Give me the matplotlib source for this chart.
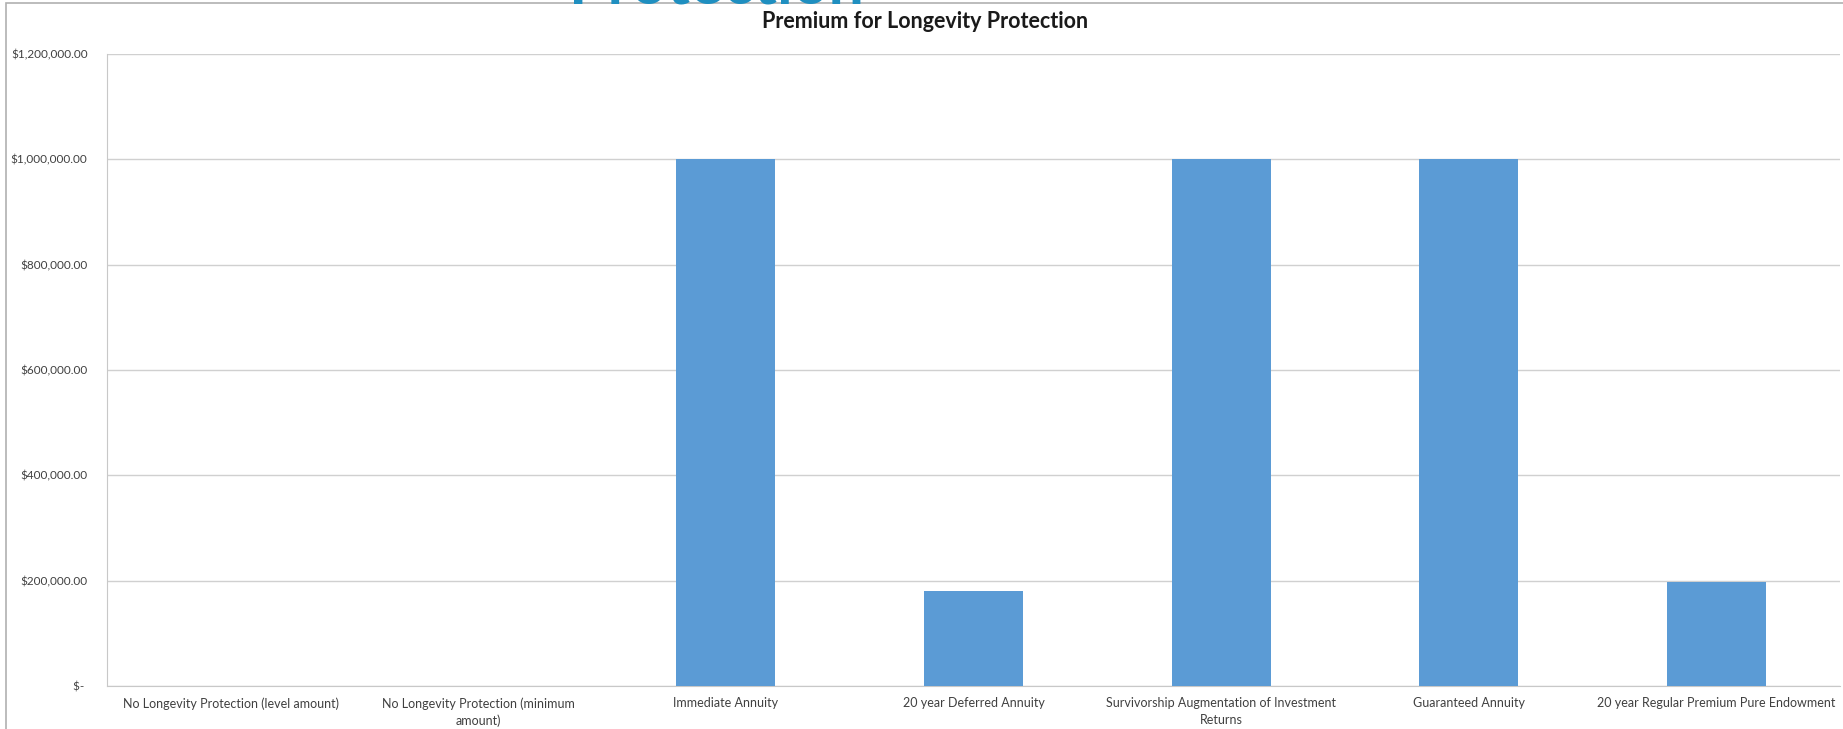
import numpy as np
import matplotlib
matplotlib.use("Agg")
import matplotlib.pyplot as plt
from matplotlib.patches import Rectangle
from matplotlib.ticker import FuncFormatter, MultipleLocator

# premium needed for each way of covering longevity risk
categories = [
    "No Longevity Protection (level amount)",
    "No Longevity Protection (minimum\namount)",
    "Immediate Annuity",
    "20 year Deferred Annuity",
    "Survivorship Augmentation of Investment\nReturns",
    "Guaranteed Annuity",
    "20 year Regular Premium Pure Endowment",
]
premiums = [0, 0, 1000000, 181000, 1000000, 1000000, 197000]

plt.rcParams['font.family'] = ['Lato', 'DejaVu Sans']

fig = plt.figure(figsize=(18.43, 7.29), dpi=100)
ax = fig.add_axes([107 / 1843, 1 - 686 / 729, (1840 - 107) / 1843, (686 - 54) / 729])

x = np.arange(len(categories))
ax.bar(x, premiums, width=0.4, color="#5b9bd5", zorder=3)

ax.set_xlim(-0.5, len(categories) - 0.5)
ax.set_ylim(0, 1200000)
ax.yaxis.set_major_locator(MultipleLocator(200000))


def dollars(v, pos):
    if v == 0:
        return "$- "
    return "${:,.2f}".format(v)


ax.yaxis.set_major_formatter(FuncFormatter(dollars))
ax.set_xticks(x)
ax.set_xticklabels(categories, fontsize=9, color="#404040", linespacing=1.5)
ax.tick_params(axis="y", labelsize=8.5, labelcolor="#404040", length=0, pad=14)
ax.tick_params(axis="x", length=0, pad=8)

ax.grid(axis="y", color="#d0d0d0", linewidth=1, zorder=0)
for side in ["top", "right"]:
    ax.spines[side].set_visible(False)
ax.spines["left"].set_color("#c8c8c8")
ax.spines["bottom"].set_color("#c8c8c8")

# chart title, centred on the chart area
fig.text(925 / 1843, 1 - 22 / 729, "Premium for Longevity Protection", fontsize=15.5,
         fontweight="bold", color="#1a1a1a", ha="center", va="center")

# chart area border
fig.patches.append(Rectangle((6 / 1843, -0.05), (1843 - 6) / 1843 + 0.05, 1.05 - 3 / 729,
                             transform=fig.transFigure, fill=False,
                             edgecolor="#b0b0b0", linewidth=1.2))

# slide heading peeking in above the chart
fig.text(716 / 1843, 1 - 3.5 / 729, "Protection", fontsize=45, fontweight="bold",
         color="#1f8fc0", ha="center", va="baseline")

fig.savefig("out.png", dpi=100)
